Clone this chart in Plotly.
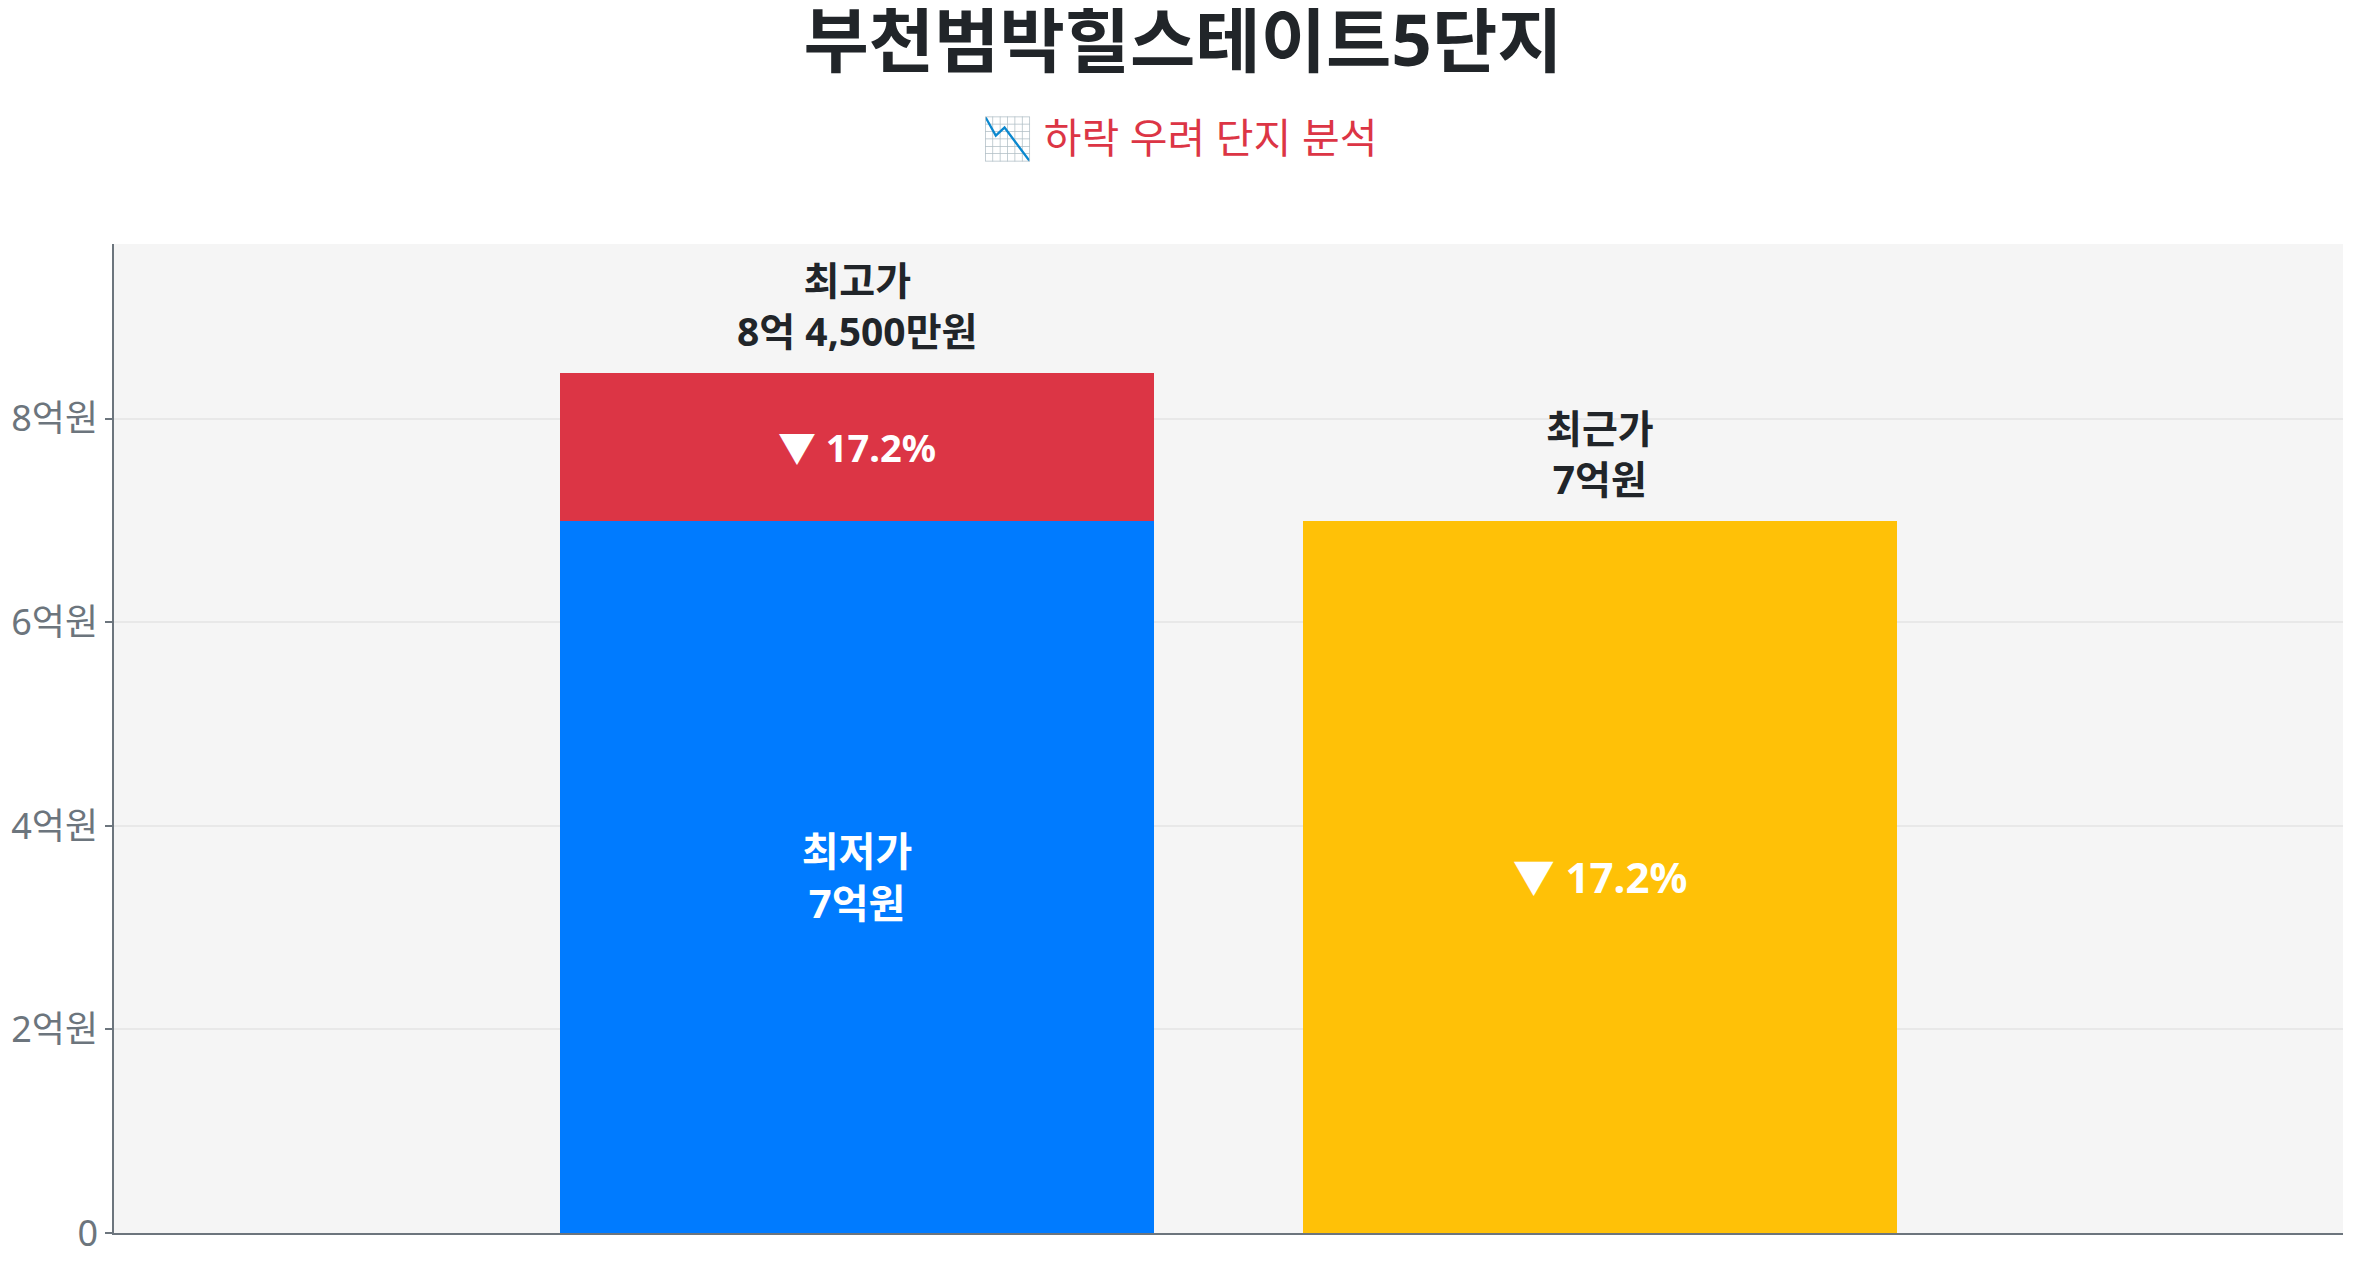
import plotly.graph_objects as go

# 단지 가격 데이터 (원)
complex_name = "부천범박힐스테이트5단지"
subtitle = "📉 하락 우려 단지 분석"
categories = ["최고/최저가", "최근가"]
high_price = 845000000
low_price = 700000000
recent_price = 700000000
drop_pct = 17.2

tick_vals = [0, 200000000, 400000000, 600000000, 800000000]
tick_text = ["0", "2억원", "4억원", "6억원", "8억원"]

high_label = "최고가<br>8억 4,500만원"
low_label = "최저가<br>7억원"
recent_label = "최근가<br>7억원"
drop_label = "▼ {:.1f}%".format(drop_pct)

FONT = "Noto Sans, Noto Sans CJK KR, sans-serif"
DARK = "#212529"

# 페이지 body 기본 여백(8px)을 빼고 맞춘 크기
W, H = 2350, 1260

fig = go.Figure()

# 최저가 (파랑)
fig.add_trace(go.Bar(
    x=[categories[0]], y=[low_price],
    marker=dict(color="#007bff", line=dict(width=0)),
    text=[low_label], textposition="inside", insidetextanchor="middle",
    textfont=dict(family=FONT, size=40, color="white", weight="bold"),
    width=0.8,
))

# 최고가 - 최저가 차이 (빨강)
fig.add_trace(go.Bar(
    x=[categories[0]], y=[high_price - low_price],
    marker=dict(color="#dc3545", line=dict(width=0)),
    text=[drop_label], textposition="inside", insidetextanchor="middle",
    textfont=dict(family=FONT, size=38, color="white", weight="bold"),
    width=0.8,
))

# 최근가 (노랑)
fig.add_trace(go.Bar(
    x=[categories[1]], y=[recent_price],
    marker=dict(color="#ffc107", line=dict(width=0)),
    text=[drop_label], textposition="inside", insidetextanchor="middle",
    textfont=dict(family=FONT, size=42, color="white", weight="bold"),
    width=0.8,
))

# 막대 위 라벨
for cat, val, label in [(categories[0], high_price, high_label),
                        (categories[1], recent_price, recent_label)]:
    fig.add_annotation(
        x=cat, y=val, text=label, showarrow=False,
        yanchor="bottom", yshift=14,
        font=dict(family=FONT, size=39, color=DARK, weight="bold"),
    )

# 부제목
fig.add_annotation(
    xref="paper", yref="paper", x=0.4778, y=1.108,
    text=subtitle, showarrow=False, yanchor="middle",
    font=dict(family=FONT, size=41, color="#dc3545"),
)

fig.update_layout(
    width=W, height=H,
    barmode="stack",
    showlegend=False,
    paper_bgcolor="white",
    plot_bgcolor="#f5f5f5",
    margin=dict(l=106, r=15, t=236, b=35),
    title=dict(
        text=complex_name,
        x=0.5, xref="container", xanchor="center",
        y=1 - 33 / H, yref="container", yanchor="middle",
        font=dict(family=FONT, size=71, color=DARK, weight="bold"),
    ),
    font=dict(family=FONT),
)

fig.update_xaxes(
    range=[-1, 2], showticklabels=False, showgrid=False,
    showline=True, linecolor="#6c757d", linewidth=1.5,
    ticks="", automargin=False,
)
fig.update_yaxes(
    range=[0, high_price * 1.15],
    tickvals=tick_vals, ticktext=tick_text,
    tickfont=dict(family=FONT, size=36, color="#6c757d"),
    showgrid=True, gridcolor="#e8e8e8", gridwidth=1.5,
    zeroline=False,
    showline=True, linecolor="#6c757d", linewidth=1.5,
    ticks="outside", ticklen=7, tickcolor="#6c757d", tickwidth=1.5,
    automargin=False,
)

fig.write_html("out.html")
